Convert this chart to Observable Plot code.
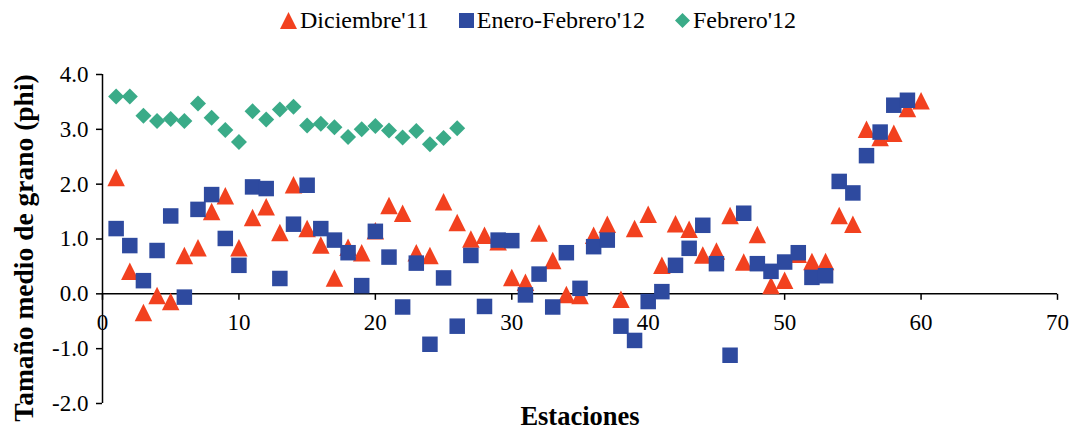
<!DOCTYPE html>
<html>
<head>
<meta charset="utf-8">
<script src="https://cdn.jsdelivr.net/npm/d3@7"></script>
<script src="https://cdn.jsdelivr.net/npm/@observablehq/plot@0.6"></script>
<style>
  html, body { margin: 0; padding: 0; background: #fff; }
  body { width: 1070px; height: 434px; overflow: hidden; font-family: "Liberation Serif", "Times New Roman", serif; color: #000; }
  #legend { height: 40px; display: flex; justify-content: center; align-items: center; font-size: 24px; padding-left: 6px; box-sizing: border-box; }
  #legend .item { display: flex; align-items: center; }
  #legend .item svg { display: block; }
  #legend .item + .item { margin-left: 30px; }
  #legend .lbl { margin-left: 3px; }
</style>
</head>
<body>
<div id="legend"></div>
<div id="chart"></div>
<script>
// ---- data ----
const seriesNames = ["Diciembre'11", "Enero-Febrero'12", "Febrero'12"];
const seriesColors = ["#F2411F", "#2E4A9F", "#3AAB88"];

// Tamaño medio de grano (phi) per estación, estaciones 1..n
const diciembre11 = [
  2.12, 0.41, -0.34, -0.03, -0.14, 0.70, 0.84, 1.50, 1.79, 0.84,
  1.39, 1.59, 1.12, 1.99, 1.19, 0.89, 0.29, 0.85, 0.75, 1.15,
  1.61, 1.47, 0.75, 0.70, 1.68, 1.30, 1.00, 1.07, 0.95, 0.30,
  0.21, 1.11, 0.61, -0.01, -0.03, 1.07, 1.27, -0.10, 1.19, 1.45,
  0.52, 1.28, 1.18, 0.71, 0.78, 1.43, 0.58, 1.08, 0.15, 0.25,
  0.72, 0.59, 0.59, 1.43, 1.27, 3.00, 2.85, 2.93, 3.38, 3.52
];
const eneroFebrero12 = [
  1.19, 0.88, 0.24, 0.79, 1.42, -0.06, 1.54, 1.81, 1.01, 0.52,
  1.95, 1.92, 0.28, 1.27, 1.98, 1.19, 0.98, 0.75, 0.15, 1.14,
  0.67, -0.24, 0.56, -0.92, 0.29, -0.59, 0.70, -0.23, 0.98, 0.97,
  -0.02, 0.36, -0.24, 0.75, 0.10, 0.86, 0.98, -0.59, -0.85, -0.14,
  0.04, 0.52, 0.83, 1.25, 0.55, -1.12, 1.47, 0.55, 0.41, 0.58,
  0.75, 0.30, 0.33, 2.05, 1.84, 2.52, 2.95, 3.44, 3.53
];
const febrero12 = [
  3.60, 3.60, 3.25, 3.15, 3.19, 3.15, 3.47, 3.21, 2.99, 2.77,
  3.33, 3.18, 3.36, 3.41, 3.07, 3.10, 3.04, 2.86, 3.00, 3.06,
  2.98, 2.85, 2.97, 2.73, 2.84, 3.02
];

const xTicks = [0, 10, 20, 30, 40, 50, 60, 70];
const yTicks = [-2, -1, 0, 1, 2, 3, 4];
const xTitle = "Estaciones";
const yTitle = "Tamaño medio de grano (phi)";

// ---- build tables ----
const toRows = (vals) => vals.map((v, i) => ({estacion: i + 1, valor: v}));
const rowsDic = toRows(diciembre11);
const rowsEne = toRows(eneroFebrero12);
const rowsFeb = toRows(febrero12);

// ---- symbols ----
const triSym = {draw(ctx, size) { const s = Math.sqrt(size); ctx.moveTo(0, -s / 2); ctx.lineTo(s / 2, s / 2); ctx.lineTo(-s / 2, s / 2); ctx.closePath(); }};
const sqSym = {draw(ctx, size) { const s = Math.sqrt(size); ctx.rect(-s / 2, -s / 2, s, s); }};
const diaSym = {draw(ctx, size) { const h = Math.sqrt(size) / 2; ctx.moveTo(0, -h); ctx.lineTo(h, 0); ctx.lineTo(0, h); ctx.lineTo(-h, 0); ctx.closePath(); }};
const tickSym = {draw(ctx) { ctx.moveTo(0, 0); ctx.lineTo(0, 6); }};
const rFor = (px) => px / Math.sqrt(Math.PI);

// ---- legend ----
const legendShapes = [
  `<svg width="17" height="17" viewBox="-8.5 -8.5 17 17"><path d="M0,-8.5L8.5,8.5L-8.5,8.5Z" fill="${seriesColors[0]}"/></svg>`,
  `<svg width="15" height="15" viewBox="-7.5 -7.5 15 15"><rect x="-7.5" y="-7.5" width="15" height="15" fill="${seriesColors[1]}"/></svg>`,
  `<svg width="15" height="15" viewBox="-7.5 -7.5 15 15"><path d="M0,-7.5L7.5,0L0,7.5L-7.5,0Z" fill="${seriesColors[2]}"/></svg>`
];
document.getElementById("legend").innerHTML = seriesNames.map((n, i) =>
  `<span class="item">${legendShapes[i]}<span class="lbl">${n}</span></span>`).join("");

// ---- chart ----
const font = '"Liberation Serif", "Times New Roman", serif';
const chart = Plot.plot({
  width: 1070,
  height: 394,
  marginTop: 34,
  marginBottom: 31,
  marginLeft: 102,
  marginRight: 13,
  style: {fontFamily: font, fontSize: "23px", color: "#000", background: "#fff", overflow: "visible"},
  x: {domain: [0, 70], axis: null},
  y: {domain: [-2, 4]},
  marks: [
    Plot.axisY({ticks: yTicks, tickFormat: d => d.toFixed(1), tickSize: 6, tickPadding: 8, label: null, fontSize: 23, strokeWidth: 1.5, stroke: "#000"}),
    Plot.ruleX([0], {stroke: "#000", strokeWidth: 1.5}),
    Plot.ruleY([0], {stroke: "#000", strokeWidth: 1.5}),
    Plot.dot(xTicks, {x: d => d, y: 0, symbol: tickSym, r: 3, stroke: "#000", strokeWidth: 1.5, fill: "none"}),
    Plot.text(xTicks, {x: d => d, y: 0, dy: 29, text: d => String(d), fontSize: 23, fill: "#000"}),
    Plot.dot(rowsDic, {x: "estacion", y: "valor", symbol: triSym, r: rFor(17.5), fill: seriesColors[0], stroke: "none"}),
    Plot.dot(rowsEne, {x: "estacion", y: "valor", symbol: sqSym, r: rFor(15.5), fill: seriesColors[1], stroke: "none"}),
    Plot.dot(rowsFeb, {x: "estacion", y: "valor", symbol: diaSym, r: rFor(16), fill: seriesColors[2], stroke: "none"}),
    Plot.text([yTitle], {text: d => d, frameAnchor: "left", textAnchor: "middle", rotate: -90, dx: -78, dy: 9, fontSize: 27.5, fontWeight: "bold", fill: "#000"}),
    Plot.text([xTitle], {text: d => d, frameAnchor: "bottom", textAnchor: "middle", dy: 21, fontSize: 26.5, fontWeight: "bold", fill: "#000"})
  ]
});
document.getElementById("chart").appendChild(chart);
</script>
</body>
</html>
